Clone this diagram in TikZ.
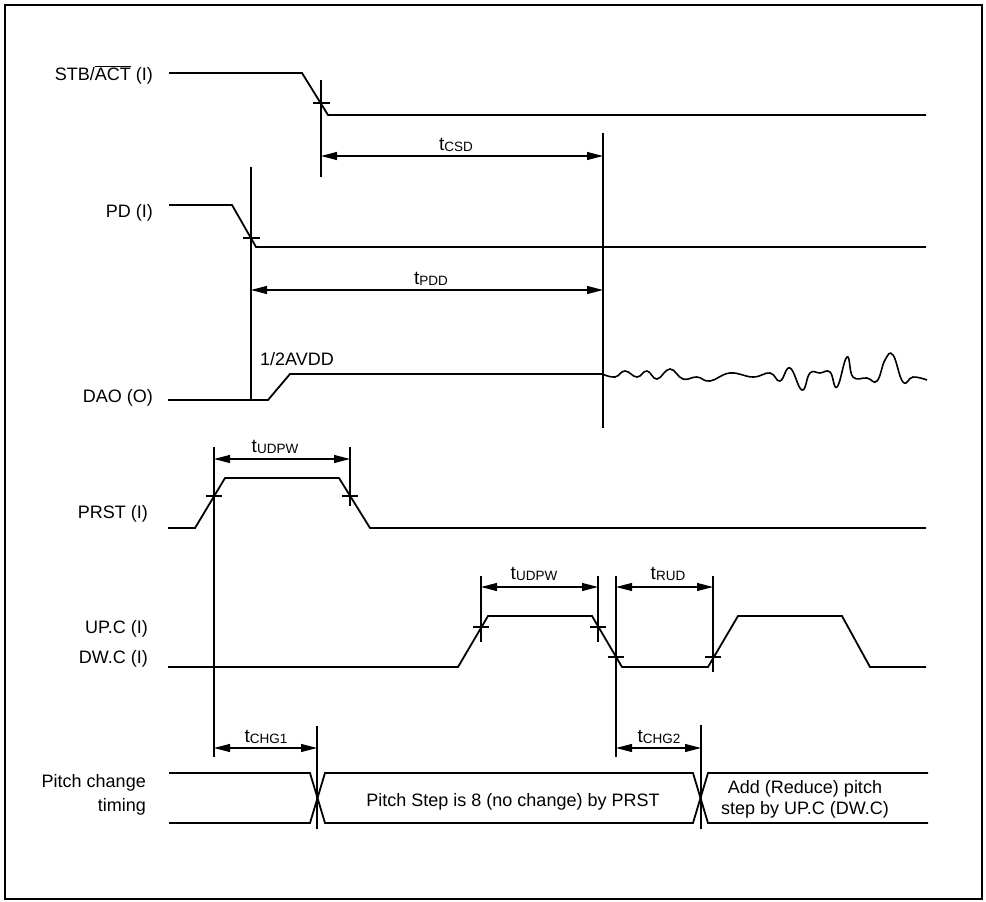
\documentclass[tikz,border=0pt]{standalone}
\usepackage{fontspec}
\setmainfont{Liberation Sans}
\usetikzlibrary{arrows.meta}
\newcommand{\tsub}[1]{{\fontsize{19}{22}\selectfont t}\raisebox{-1.5pt}{\fontsize{13.5}{14}\selectfont #1}}
\begin{document}
\begin{tikzpicture}[x=1pt,y=-1pt,
  sig/.style={line width=1.8pt,line join=miter},
  guide/.style={line width=1.1pt},
  tickmark/.style={line width=1.1pt},
  dim/.style={line width=1.1pt,{Triangle[length=16pt,width=8pt]}-{Triangle[length=16pt,width=8pt]}},
  lbl/.style={inner sep=0pt,font=\fontsize{18}{22}\selectfont},
  tlbl/.style={inner sep=0pt,anchor=base,font=\fontsize{18}{22}\selectfont}]
\useasboundingbox (0,0) rectangle (986,902);
\draw[line width=1.5pt] (5,5) rectangle (982,899);

% labels
\node[lbl,anchor=base east] (lstb) at (153,80) {STB/$\overline{\hbox{ACT}}$ (I)};
\node[lbl,anchor=base east] (lpd) at (153,217) {PD (I)};
\node[lbl,anchor=base east] (ldao) at (153,402) {DAO (O)};
\node[lbl,anchor=base east] (lprst) at (148,518) {PRST (I)};
\node[lbl,anchor=base east] (lup) at (148,633) {UP.C (I)};
\node[lbl,anchor=base east] (ldw) at (148,663) {DW.C (I)};
\node[lbl,anchor=east,align=right] (lpit) at (146,795) {Pitch change\\[2pt]timing};

% STB/ACT
\draw[sig] (169,73) -- (302,73) -- (328,115) -- (926,115);
\draw[tickmark] (313,103) -- (330,103);
\draw[guide] (321,80) -- (321,177);
% PD
\draw[sig] (169,205) -- (232,205) -- (256,247) -- (926,247);
\draw[tickmark] (243,238) -- (260,238);
\draw[guide] (251,167) -- (251,400);
% common vertical
\draw[guide] (603,133) -- (603,428);
\coordinate (c1) at (321,156); \coordinate (c2) at (603,156);
\draw[dim] (c1) -- (c2);
\node[tlbl] (tcsd) at (456,150) {\tsub{CSD}};
\coordinate (p1) at (251,290); \coordinate (p2) at (603,290);
\draw[dim] (p1) -- (p2);
\node[tlbl] (tpdd) at (431,284) {\tsub{PDD}};
% DAO
\draw[sig] (168,400) -- (268,400) -- (290,374) -- (603,374);
\draw[line width=1.6pt] plot[smooth,tension=0.75] coordinates {(603,374.3) (615,377) (625,371) (637,377) (647,371) (657,379) (670,369) (683,379) (697,377) (710,381) (730,373) (753,377) (770,373) (780,381) (790,368) (802,390) (810,373) (820,373) (830,372) (837,387) (847,357) (853,377) (867,378) (877,381) (885,360) (893,355) (903,382) (913,377) (927,380)};
\node[lbl,anchor=base west] (avdd) at (260,365) {1/2AVDD};
% PRST
\draw[sig] (168,528) -- (195,528) -- (225,478) -- (339,478) -- (370,528) -- (926,528);
\draw[tickmark] (206,496) -- (222,496);
\draw[tickmark] (342,496) -- (358,496);
\draw[guide] (214,447) -- (214,757);
\draw[guide] (350,447) -- (350,506);
\coordinate (r1) at (214,459); \coordinate (r2) at (350,459);
\draw[dim] (r1) -- (r2);
\node[tlbl] (tudpw1) at (275,452) {\tsub{UDPW}};
% UP.C / DW.C
\draw[sig] (168,667) -- (458,667) -- (488,616) -- (592,616) -- (622,667) -- (708,667) -- (738,616) -- (842,616) -- (870,667) -- (926,667);
\draw[tickmark] (473,627) -- (489,627);
\draw[tickmark] (590,627) -- (606,627);
\draw[tickmark] (608,657) -- (624,657);
\draw[tickmark] (705,657) -- (721,657);
\draw[guide] (481,576) -- (481,642);
\draw[guide] (598,576) -- (598,642);
\draw[guide] (616,576) -- (616,757);
\draw[guide] (713,576) -- (713,672);
\coordinate (u1) at (481,587); \coordinate (u2) at (598,587);
\draw[dim] (u1) -- (u2);
\node[tlbl] (tudpw2) at (534,579) {\tsub{UDPW}};
\coordinate (d1) at (616,587); \coordinate (d2) at (713,587);
\draw[dim] (d1) -- (d2);
\node[tlbl] (trud) at (668,579) {\tsub{RUD}};
% Pitch change timing bus
\draw[sig] (169,773) -- (310,773) -- (325,823) -- (693,823) -- (708,773) -- (928,773);
\draw[sig] (169,823) -- (310,823) -- (325,773) -- (693,773) -- (708,823) -- (928,823);
\draw[guide] (317,726) -- (317,829);
\draw[guide] (701,725) -- (701,829);
\coordinate (g1) at (214,748); \coordinate (g2) at (317,748);
\draw[dim] (g1) -- (g2);
\node[tlbl] (tchg1) at (266,742) {\tsub{CHG1}};
\coordinate (h1) at (616,748); \coordinate (h2) at (701,748);
\draw[dim] (h1) -- (h2);
\node[tlbl] (tchg2) at (659,742) {\tsub{CHG2}};
\node[tlbl] (step8) at (513,806) {Pitch Step is 8 (no change) by PRST};
\node[lbl,align=center] (addred) at (805,799) {Add (Reduce) pitch\\[-1pt]step by UP.C (DW.C)};
\end{tikzpicture}
\end{document}
